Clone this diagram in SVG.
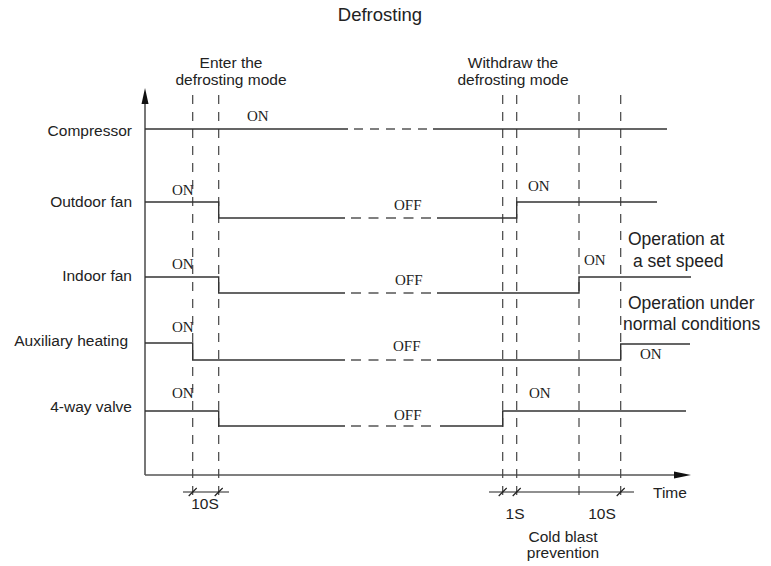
<svg xmlns="http://www.w3.org/2000/svg" width="771" height="566" viewBox="0 0 771 566">
<style>
.sans{font-family:"Liberation Sans",Arial,sans-serif;font-size:15.5px;fill:#222}
.big{font-size:17.5px}
.title{font-size:18.5px}
.serif{font-family:"Liberation Serif","Times New Roman",serif;font-size:15px;fill:#222}
.sig{fill:none;stroke:#333;stroke-width:1.4}
.gap{fill:none;stroke:#555;stroke-width:1.4;stroke-dasharray:10 7.5}
.vd{fill:none;stroke:#444;stroke-width:1.2;stroke-dasharray:9 8}
.ax{fill:none;stroke:#555;stroke-width:1.6}
.tk{fill:none;stroke:#222;stroke-width:1.2}
</style>
<rect width="771" height="566" fill="#fff"/>
<text class="sans title" x="380" y="21" text-anchor="middle">Defrosting</text>
<g id="enter-label" class="sans" text-anchor="middle">
<text x="231" y="68">Enter the</text>
<text x="231" y="85">defrosting mode</text>
</g>
<g id="withdraw-label" class="sans" text-anchor="middle">
<text x="513" y="68">Withdraw the</text>
<text x="513" y="85">defrosting mode</text>
</g>
<g id="axes">
<line class="ax" x1="145" y1="100" x2="145" y2="475"/>
<line class="ax" x1="145" y1="475" x2="678" y2="475"/>
<polygon points="145,88 141.5,104 148.5,104" fill="#111"/>
<polygon points="691,475 674,471.5 674,478.5" fill="#111"/>
<text class="sans" x="653" y="498">Time</text>
</g>
<g id="connectors">
<line class="vd" x1="192.7" y1="95" x2="192.7" y2="502"/>
<line class="vd" x1="218.7" y1="95" x2="218.7" y2="502"/>
<line class="vd" x1="502.7" y1="95" x2="502.7" y2="502"/>
<line class="vd" x1="516.7" y1="95" x2="516.7" y2="502"/>
<line class="vd" x1="579" y1="95" x2="579" y2="502"/>
<line class="vd" x1="620.7" y1="95" x2="620.7" y2="502"/>
</g>
<g id="compressor">
<text class="sans" x="132" y="136" text-anchor="end">Compressor</text>
<path class="sig" d="M145 129H348M433 129H667"/>
<line class="gap" x1="354" y1="129" x2="427" y2="129" style="stroke-dasharray:9 7"/>
<text class="serif" x="247" y="121">ON</text>
</g>
<g id="outdoor-fan">
<text class="sans" x="132" y="207" text-anchor="end">Outdoor fan</text>
<path class="sig" d="M145 202H218.7V218H345M437 218H516.7V202H657"/>
<line class="gap" x1="351" y1="218" x2="431" y2="218"/>
<text class="serif" x="172" y="195">ON</text>
<text class="serif" x="394" y="210">OFF</text>
<text class="serif" x="528" y="191">ON</text>
</g>
<g id="indoor-fan">
<text class="sans" x="132" y="281" text-anchor="end">Indoor fan</text>
<path class="sig" d="M145 277H218.7V293H345M437 293H579V277H691"/>
<line class="gap" x1="351" y1="293" x2="431" y2="293"/>
<text class="serif" x="172" y="269">ON</text>
<text class="serif" x="395" y="285">OFF</text>
<text class="serif" x="584" y="265">ON</text>
<text class="sans big" x="628" y="245">Operation at</text>
<text class="sans big" x="633" y="267">a set speed</text>
</g>
<g id="auxiliary-heating">
<text class="sans" x="128" y="346" text-anchor="end">Auxiliary heating</text>
<path class="sig" d="M145 343H192.7V360H345M437 360H620.7V344H690"/>
<line class="gap" x1="351" y1="360" x2="431" y2="360"/>
<text class="serif" x="172" y="332">ON</text>
<text class="serif" x="393" y="351">OFF</text>
<text class="serif" x="640" y="359">ON</text>
<text class="sans big" x="628" y="309">Operation under</text>
<text class="sans big" x="623" y="330">normal conditions</text>
</g>
<g id="four-way-valve">
<text class="sans" x="132" y="412" text-anchor="end">4-way valve</text>
<path class="sig" d="M145 411H218.7V426H345M440 426H502.7V411H686"/>
<line class="gap" x1="351" y1="426" x2="434" y2="426"/>
<text class="serif" x="172" y="398">ON</text>
<text class="serif" x="394" y="420">OFF</text>
<text class="serif" x="529" y="398">ON</text>
</g>
<g id="timing">
<path class="tk" d="M183 492H229M489 492H634"/>
<path class="tk" d="M188.7 496L196.7 488M214.7 496L222.7 488M498.7 496L506.7 488M512.7 496L520.7 488M616.7 496L624.7 488"/>
<text class="sans" x="205" y="509" text-anchor="middle">10S</text>
<text class="sans" x="515" y="519" text-anchor="middle">1S</text>
<text class="sans" x="602" y="519" text-anchor="middle">10S</text>
<text class="sans" x="563" y="542" text-anchor="middle">Cold blast</text>
<text class="sans" x="563" y="558" text-anchor="middle">prevention</text>
</g>
</svg>
